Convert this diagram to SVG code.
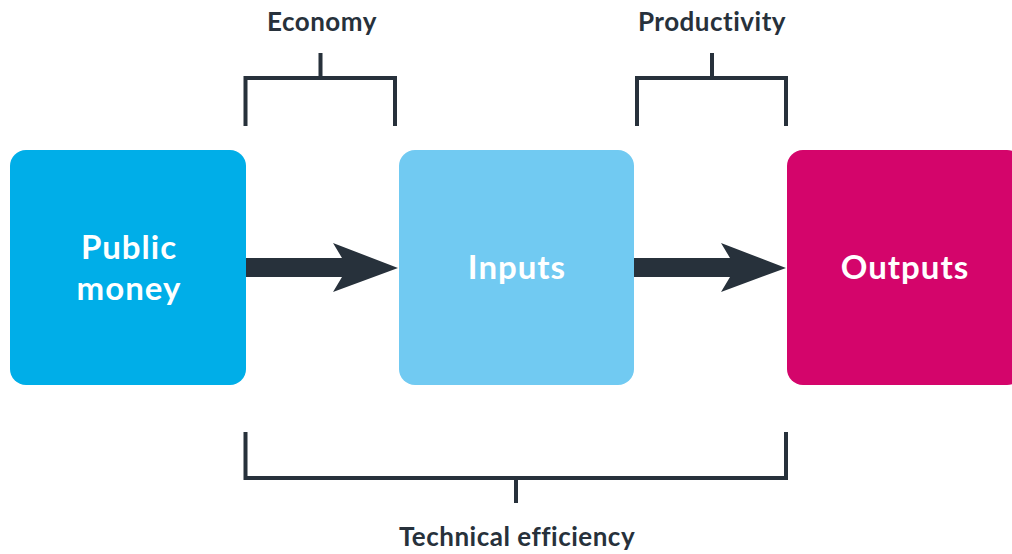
<svg xmlns="http://www.w3.org/2000/svg" width="1012" height="554" viewBox="0 0 1012 554">
<style>
.lbl{font-family:Lato,"Open Sans",sans-serif;font-weight:bold;font-size:26px;letter-spacing:0.5px;fill:#27313b;text-anchor:middle}
.node{font-family:Lato,"Open Sans",sans-serif;font-weight:bold;font-size:33px;letter-spacing:1px;fill:#ffffff;text-anchor:middle}
.br{fill:none;stroke:#27313b;stroke-width:4}
.arr{fill:#27313b}
</style>
<rect width="1012" height="554" fill="#ffffff"/>
<g id="public-money">
<rect x="10" y="150" width="236" height="235" rx="16" fill="#00aee8"/>
<text class="node" x="129" y="259">Public</text>
<text class="node" x="129" y="300">money</text>
</g>
<g id="inputs">
<rect x="399" y="150" width="235" height="235" rx="16" fill="#71caf2"/>
<text class="node" x="517" y="279">Inputs</text>
</g>
<g id="outputs">
<rect x="787" y="150" width="236" height="235" rx="16" fill="#d4056b"/>
<text class="node" x="905" y="279">Outputs</text>
</g>
<g id="connectors">
<path class="arr" d="M246,258 L342,258 L333,243 L398,268 L333,292 L342,277 L246,277 Z"/>
<path class="arr" d="M634,258 L730,258 L721,243 L786,268 L721,292 L730,277 L634,277 Z"/>
</g>
<g id="economy">
<path class="br" d="M245.5,126 V78 H395 V126 M320.5,78 V53"/>
<text class="lbl" x="322" y="31">Economy</text>
</g>
<g id="productivity">
<path class="br" d="M637,126 V78 H786 V126 M712,78 V53"/>
<text class="lbl" x="712" y="31">Productivity</text>
</g>
<g id="technical-efficiency">
<path class="br" d="M245.5,432 V478 H786 V432 M516,478 V503"/>
<text class="lbl" x="517" y="546">Technical efficiency</text>
</g>
</svg>
